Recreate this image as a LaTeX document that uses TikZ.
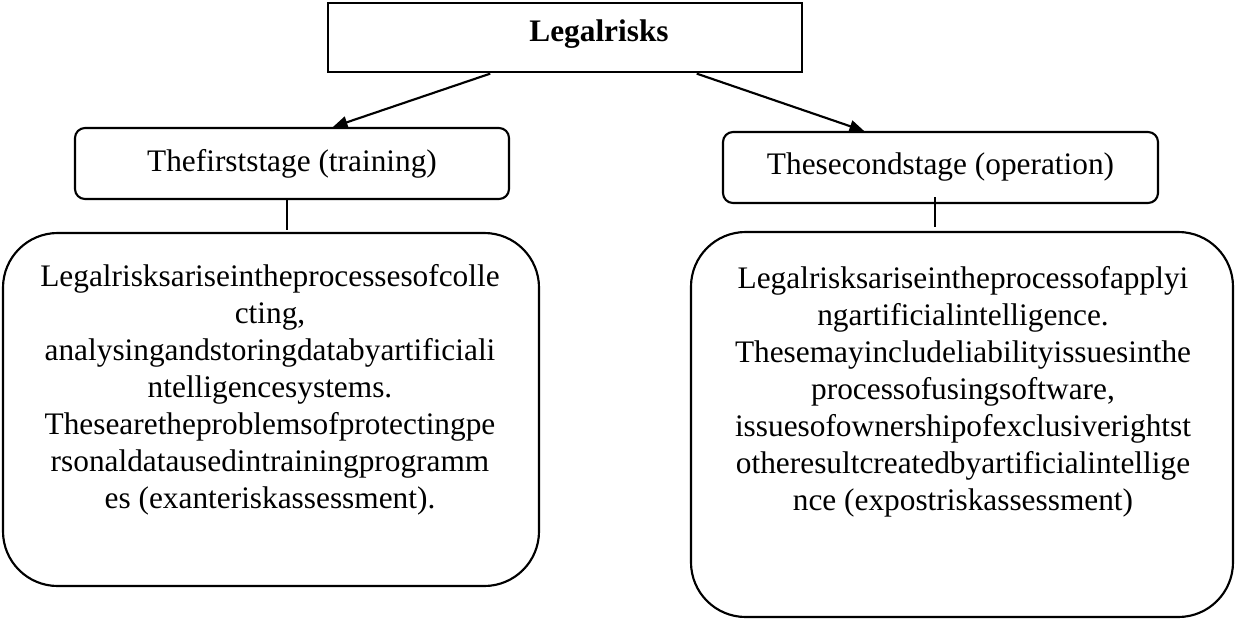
\documentclass[tikz,border=0pt]{standalone}
\usepackage{fontspec}
\setmainfont{Liberation Serif}
\usetikzlibrary{arrows.meta}

\begin{document}
\begin{tikzpicture}[x=0.75pt,y=0.75pt,yscale=-1,xscale=1,line width=1.6pt,
	every node/.style={font=\fontsize{23.5}{27.75}\selectfont,inner sep=0pt,outer sep=0pt},
	headbox/.style={draw,rectangle,minimum width=355.5pt,minimum height=51.75pt},
	stagebox/.style={draw,rounded corners=7.5pt,minimum width=325.5pt,minimum height=53.25pt},
	bodybox/.style={draw,rounded corners=41pt},
	bodytext/.style={align=center},
	arr/.style={-{Triangle[length=11pt,width=9pt]},shorten <=3.75pt,shorten >=2.25pt}]

	\useasboundingbox (0,0) rectangle (1235,619);

	% boxes
	\draw (565,37.5) node (risks) [headbox] {};
	\draw (292,163.5) node (first) [stagebox] {Thefirststage (training)};
	\draw (940.5,167.5) node (second) [stagebox,minimum width=326.25pt] {Thesecondstage (operation)};
	\draw (271,409.5) node (firstbody) [bodybox,minimum width=402pt,minimum height=264.75pt] {};
	\draw (962,424.5) node (secondbody) [bodybox,minimum width=406.5pt,minimum height=288.75pt] {};

	% texts
	\draw (599,34) node (riskstext) {\textbf{Legalrisks}};
	\draw (270,389.5) node (firsttext) [bodytext] {Legalrisksariseintheprocessesofcolle\\cting,\\analysingandstoringdatabyartificiali\\ntelligencesystems.\\Thesearetheproblemsofprotectingpe\\rsonaldatausedintrainingprogramm\\es (exanteriskassessment).};
	\draw (963,391.5) node (secondtext) [bodytext] {Legalrisksariseintheprocessofapplyi\\ngartificialintelligence.\\Thesemayincludeliabilityissuesinthe\\processofusingsoftware,\\issuesofownershipofexclusiverightst\\otheresultcreatedbyartificialintellige\\nce (expostriskassessment)};

	% connectors
	\draw [arr] ([xshift=-52.5pt]risks.south) -- ([xshift=28.5pt]first.north);
	\draw [arr] ([xshift=95.25pt]risks.south) -- ([xshift=-55.1pt]second.north);
	\draw [shorten >=2.25pt] ([xshift=-3.75pt]first.south) -- ([xshift=-3.75pt]first.south |- firstbody.north);
	\draw [shorten >=3.75pt] ([xshift=-4.1pt,yshift=-4.5pt]second.south) -- ([xshift=-4.1pt]second.south |- secondbody.north);

\end{tikzpicture}
\end{document}
